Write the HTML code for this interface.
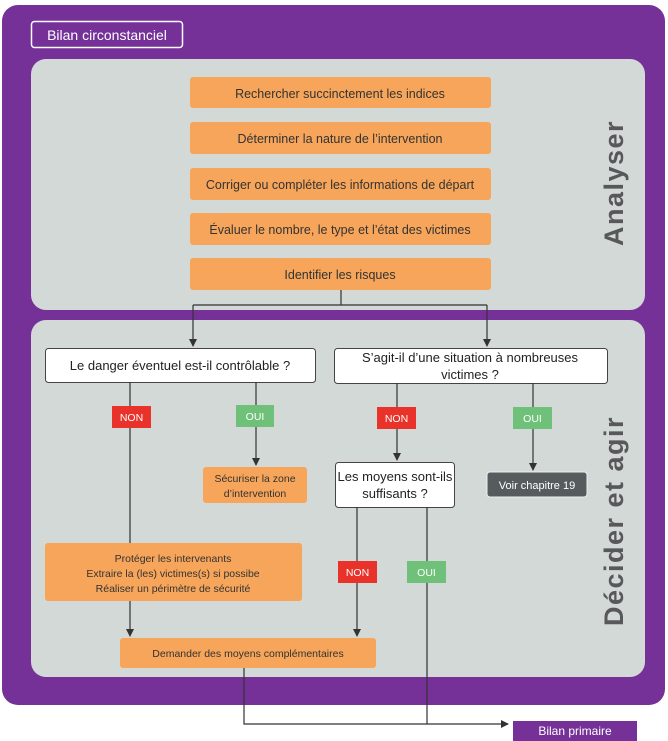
<!DOCTYPE html>
<html><head><meta charset="utf-8"><style>
html,body{margin:0;padding:0;background:#fff;}
svg{display:block;font-family:"Liberation Sans",sans-serif;}
</style></head><body>
<svg width="668" height="741" viewBox="0 0 668 741" xmlns="http://www.w3.org/2000/svg">
<defs><marker id="a" markerWidth="8" markerHeight="8" refX="7" refY="4" orient="auto" markerUnits="userSpaceOnUse"><path d="M0,0 L8,4 L0,8 z" fill="#333"/></marker></defs>
<rect x="2" y="5" width="663" height="700" rx="16" fill="#753198"/>
<rect x="31.5" y="21.5" width="151" height="26" rx="3" fill="none" stroke="#fff" stroke-width="1.5"/>
<text x="107" y="40" fill="#fff" font-size="14" text-anchor="middle">Bilan circonstanciel</text>
<rect x="31" y="59" width="614" height="251" rx="15" fill="#d3d9d7"/>
<rect x="31" y="320" width="614" height="357" rx="15" fill="#d3d9d7"/>
<g fill="#f6a55a">
<rect x="190" y="77" width="301" height="31" rx="3"/>
<rect x="190" y="122" width="301" height="32" rx="3"/>
<rect x="190" y="168" width="301" height="32" rx="3"/>
<rect x="190" y="213" width="301" height="32" rx="3"/>
<rect x="190" y="258" width="301" height="32" rx="3"/>
<rect x="203" y="467" width="104" height="36" rx="3"/>
<rect x="45" y="543" width="257" height="58" rx="3"/>
<rect x="120" y="638" width="256" height="30" rx="3"/>
</g>
<g font-size="12.5" fill="#333" text-anchor="middle">
<text x="340" y="98">Rechercher succinctement les indices</text>
<text x="340" y="143">Déterminer la nature de l’intervention</text>
<text x="340" y="189">Corriger ou compléter les informations de départ</text>
<text x="340" y="234">Évaluer le nombre, le type et l’état des victimes</text>
<text x="340" y="279">Identifier les risques</text>
</g>
<g font-size="10.5" fill="#333" text-anchor="middle">
<text x="255" y="482">Sécuriser la zone</text>
<text x="255" y="497">d’intervention</text>
<text x="173" y="562">Protéger les intervenants</text>
<text x="173" y="577">Extraire la (les) victimes(s) si possibe</text>
<text x="173" y="592">Réaliser un périmètre de sécurité</text>
<text x="248" y="657">Demander des moyens complémentaires</text>
</g>
<g fill="#fff" stroke="#444" stroke-width="1">
<rect x="45.5" y="348.5" width="270" height="34" rx="3"/>
<rect x="334.5" y="348.5" width="273" height="35" rx="3"/>
<rect x="335.5" y="462.5" width="119" height="45" rx="3"/>
</g>
<g font-size="13" fill="#222" text-anchor="middle">
<text x="180" y="370">Le danger éventuel est-il contrôlable ?</text>
<text x="470" y="362">S’agit-il d’une situation à nombreuses</text>
<text x="470" y="379">victimes ?</text>
<text x="395" y="481">Les moyens sont-ils</text>
<text x="395" y="498">suffisants ?</text>
</g>
<rect x="487" y="472" width="100" height="25" rx="3" fill="#565b5d" stroke="#eee"/>
<text x="537" y="489" font-size="11" fill="#fff" text-anchor="middle">Voir chapitre 19</text>
<g stroke="#333" stroke-width="1.2" fill="none">
<path d="M341 290 V305 M193 305 H487"/>
<path d="M193 305 V346" marker-end="url(#a)"/>
<path d="M487 305 V346" marker-end="url(#a)"/>
<path d="M130 382 V543"/>
<path d="M130 601 V636" marker-end="url(#a)"/>
<path d="M256 382 V465" marker-end="url(#a)"/>
<path d="M397 383 V460" marker-end="url(#a)"/>
<path d="M533 383 V470" marker-end="url(#a)"/>
<path d="M357 507 V636" marker-end="url(#a)"/>
<path d="M427 507 V724"/>
<path d="M244 668 V724 H508" marker-end="url(#a)"/>
</g>
<g font-size="10.5" fill="#fff" text-anchor="middle">
<rect x="112" y="406" width="39" height="22" fill="#e8322a"/><text x="131.5" y="421">NON</text>
<rect x="236" y="405" width="38" height="22" fill="#6fc17a"/><text x="255" y="420">OUI</text>
<rect x="377" y="407" width="39" height="22" fill="#e8322a"/><text x="396.5" y="422">NON</text>
<rect x="513" y="407" width="39" height="22" fill="#6fc17a"/><text x="532.5" y="422">OUI</text>
<rect x="338" y="561" width="39" height="22" fill="#e8322a"/><text x="357.5" y="576">NON</text>
<rect x="407" y="561" width="39" height="22" fill="#6fc17a"/><text x="426.5" y="576">OUI</text>
</g>
<rect x="513" y="721" width="124" height="20" fill="#753198"/>
<text x="575" y="735" font-size="12" fill="#fff" text-anchor="middle">Bilan primaire</text>
<g font-weight="bold" fill="#58585a" font-size="27" text-anchor="middle" letter-spacing="1.5">
<text transform="translate(623,183) rotate(-90)">Analyser</text>
<text transform="translate(623,521) rotate(-90)">Décider et agir</text>
</g>
</svg>
</body></html>
